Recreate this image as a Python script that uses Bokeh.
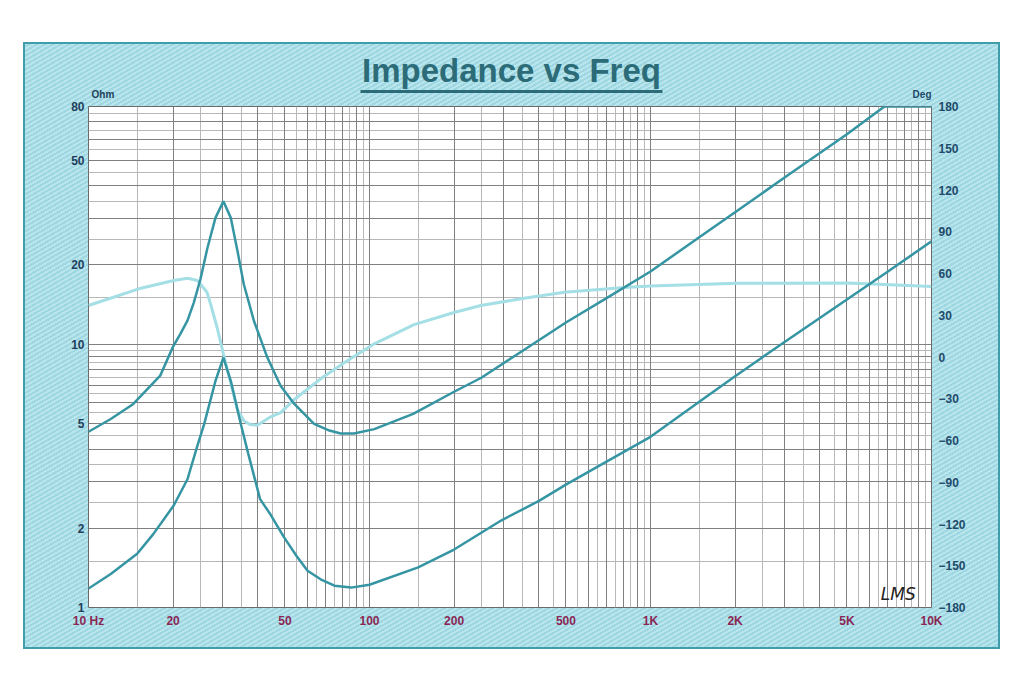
import numpy as np
from bokeh.plotting import figure
from bokeh.layouts import column
from bokeh.models import (Range1d, LinearAxis, LinearScale, FixedTicker, Grid,
                          Label, BoxAnnotation)
from bokeh.embed import file_html
from bokeh.resources import INLINE

# ---------------- data ----------------
z1_freq = [10, 12, 14.35, 18, 20, 21.25, 22.5, 23.7, 25, 26.5, 28.3, 30.2, 32.1, 33.9, 35.7,
           38.8, 43.3, 48.3, 54, 63.5, 72, 79, 88, 104, 143, 200, 250, 350, 500,
           700, 1000, 1500, 2000, 3000, 5000, 6800, 10000]
z1_ohm = [4.65, 5.2, 5.9, 7.6, 9.8, 10.98, 12.3, 14.4, 17.6, 23.2, 30.2, 34.9, 30.2, 22.6, 16.9,
          12.25, 8.9, 6.94, 5.93, 4.98, 4.7, 4.58, 4.58, 4.76, 5.44, 6.6, 7.46, 9.43, 12.1,
          15.0, 18.9, 25.6, 31.7, 43.0, 62.8, 80.0, 80.0]

z2_freq = [10, 12, 14.9, 17, 20.1, 22.5, 24.4, 25.8, 28.3, 30.2, 32.1, 34.8, 37,
           40.8, 44.5, 49.6, 55, 60.2, 67, 75, 86, 100, 149, 200, 294, 401, 500,
           700, 1000, 1500, 2000, 3000, 5000, 7000, 10000]
z2_ohm = [1.18, 1.34, 1.60, 1.90, 2.44, 3.07, 4.11, 4.97, 7.25, 8.9, 7.25, 5.0, 3.85,
          2.58, 2.25, 1.85, 1.57, 1.38, 1.28, 1.21, 1.19, 1.22, 1.42, 1.66, 2.14, 2.54, 2.93,
          3.59, 4.45, 6.07, 7.56, 10.2, 14.8, 18.9, 24.6]

ph_freq = [10, 15.1, 20.1, 22.5, 24.4, 25, 26.4, 27.2, 28.7, 30.2, 32.1, 33.9, 35.8,
           37.5, 39.9, 44.5, 48.3, 54, 67, 83.6, 104, 144, 200, 249, 350, 494,
           807, 1000, 2030, 5060, 10000]
ph_deg = [37, 49, 55, 56.6, 55, 52.5, 46.5, 38, 21, 2.3, -19, -38, -46,
          -48.5, -49, -43, -40, -30.5, -15.7, -2.5, 9.5, 23.3, 32, 37, 42, 46.5,
          50, 51, 53, 53.2, 50.6]

x_ticks = [10, 20, 50, 100, 200, 500, 1000, 2000, 5000, 10000]
x_tick_labels = ["10 Hz", "20", "50", "100", "200", "500", "1K", "2K", "5K", "10K"]
ohm_ticks = [1, 2, 5, 10, 20, 50, 80]
deg_ticks = [-180, -150, -120, -90, -60, -30, 0, 30, 60, 90, 120, 150, 180]
title_text = "Impedance vs Freq"
left_unit = "Ohm"
right_unit = "Deg"
signature = "LMS"

# ---------------- styling ----------------
FONT = "Liberation Sans"
TEAL = "#3595a3"
PHASE = "#a3dfe5"
LEFT_LBL = "#22405c"
RIGHT_LBL = "#1f4a6b"
BOTTOM_LBL = "#8a2755"
TITLE_C = "#2c6c79"

FRAME_W, FRAME_H = 843, 501
BL, BR = 65, 69
HDR_H = 58

# ---------- header (title, underline, unit names); frame aligned with chart frame ----------
hdr = figure(title=None, frame_width=FRAME_W, frame_height=HDR_H,
             x_range=Range1d(0, FRAME_W), y_range=Range1d(0, HDR_H),
             output_backend="svg", toolbar_location=None,
             min_border_left=BL, min_border_right=BR, min_border_top=0, min_border_bottom=0,
             x_axis_location=None, y_axis_location=None)
for g in hdr.grid:
    g.visible = False
hdr.outline_line_color = None
hdr.background_fill_alpha = 0
hdr.border_fill_alpha = 0

hdr.add_layout(Label(x=423, y=30, text=title_text, text_align="center",
                     text_baseline="alphabetic", text_font=FONT,
                     text_font_style="bold", text_font_size="33px", text_color=TITLE_C))
hdr.add_layout(BoxAnnotation(left=272, right=574, bottom=7.5, top=10.5,
                             fill_color=TITLE_C, fill_alpha=1, line_color=None))
hdr.add_layout(Label(x=3, y=6.2, text=left_unit, text_align="left",
                     text_baseline="alphabetic", text_font=FONT,
                     text_font_style="bold", text_font_size="10px", text_color=LEFT_LBL))
hdr.add_layout(Label(x=FRAME_W, y=6.2, text=right_unit, text_align="right",
                     text_baseline="alphabetic", text_font=FONT,
                     text_font_style="bold", text_font_size="10px", text_color=RIGHT_LBL))

# ---------- main chart ----------
p = figure(frame_width=FRAME_W, frame_height=FRAME_H,
           x_axis_type="log", y_axis_type="log",
           x_range=Range1d(10, 10000), y_range=Range1d(1, 80),
           output_backend="svg", toolbar_location=None,
           min_border_left=BL, min_border_right=BR,
           min_border_top=6, min_border_bottom=42)
p.border_fill_alpha = 0
p.background_fill_color = "white"
p.outline_line_color = "#6a6a6a"
p.outline_line_width = 1

p.xgrid.visible = False
p.ygrid.visible = False

def log_grid(decades, steps):
    major, minor = [], []
    for d in decades:
        for k in steps:
            v = k * d
            (major if float(k).is_integer() else minor).append(v)
    return major, minor

xmaj, xmin = log_grid([10, 100, 1000], np.arange(1, 10, 0.5))
xmaj.append(10000)
ymaj, ymin = log_grid([1], np.arange(1, 10, 0.5))
for v in range(10, 81, 5):
    (ymaj if v % 10 == 0 else ymin).append(v)

for ticks, dim, col in [(xmin, 0, "#b8b8b8"), (ymin, 1, "#b8b8b8"),
                        (xmaj, 0, "#808080"), (ymaj, 1, "#808080")]:
    p.add_layout(Grid(dimension=dim, ticker=FixedTicker(ticks=[float(t) for t in ticks]),
                      grid_line_color=col, grid_line_width=1))

def style_axis(ax, color, standoff):
    ax.axis_line_color = None
    ax.major_tick_out = 0
    ax.major_tick_in = 0
    ax.minor_tick_out = 0
    ax.minor_tick_in = 0
    ax.major_label_text_font = FONT
    ax.major_label_text_font_style = "bold"
    ax.major_label_text_font_size = "12px"
    ax.major_label_text_color = color
    ax.major_label_standoff = standoff

xa = p.xaxis[0]
xa.ticker = FixedTicker(ticks=x_ticks)
xa.major_label_overrides = {t: l for t, l in zip(x_ticks, x_tick_labels)}
style_axis(xa, BOTTOM_LBL, 6)

ya = p.yaxis[0]
ya.ticker = FixedTicker(ticks=ohm_ticks)
ya.major_label_overrides = {t: str(t) for t in ohm_ticks}
style_axis(ya, LEFT_LBL, 4)

p.extra_y_ranges = {"deg": Range1d(-180, 180)}
p.extra_y_scales = {"deg": LinearScale()}
ra = LinearAxis(y_range_name="deg", ticker=FixedTicker(ticks=deg_ticks))
style_axis(ra, RIGHT_LBL, 7)
p.add_layout(ra, "right")

# curves
p.line(ph_freq, ph_deg, y_range_name="deg", line_color=PHASE, line_width=3)
p.line(z1_freq, z1_ohm, line_color=TEAL, line_width=2.5)
p.line(z2_freq, z2_ohm, line_color=TEAL, line_width=2.5)

p.add_layout(Label(x=6600, y=1.13, text=signature, text_align="left",
                   text_baseline="alphabetic", text_font="DejaVu Sans",
                   text_font_style="italic", text_font_size="17px",
                   text_color="#222222"))

lay = column(hdr, p, spacing=0)
lay.margin = (42, 0, 0, 23)
lay.styles = {
    "background": "repeating-linear-gradient(150deg, #9ed7e1 0px, #9ed7e1 2px, #b9e6ed 2px, #b9e6ed 4px)",
    "outline": "2px solid #3f9dac",
    "outline-offset": "-2px",
}

open("out.html", "w").write(file_html(lay, INLINE))
